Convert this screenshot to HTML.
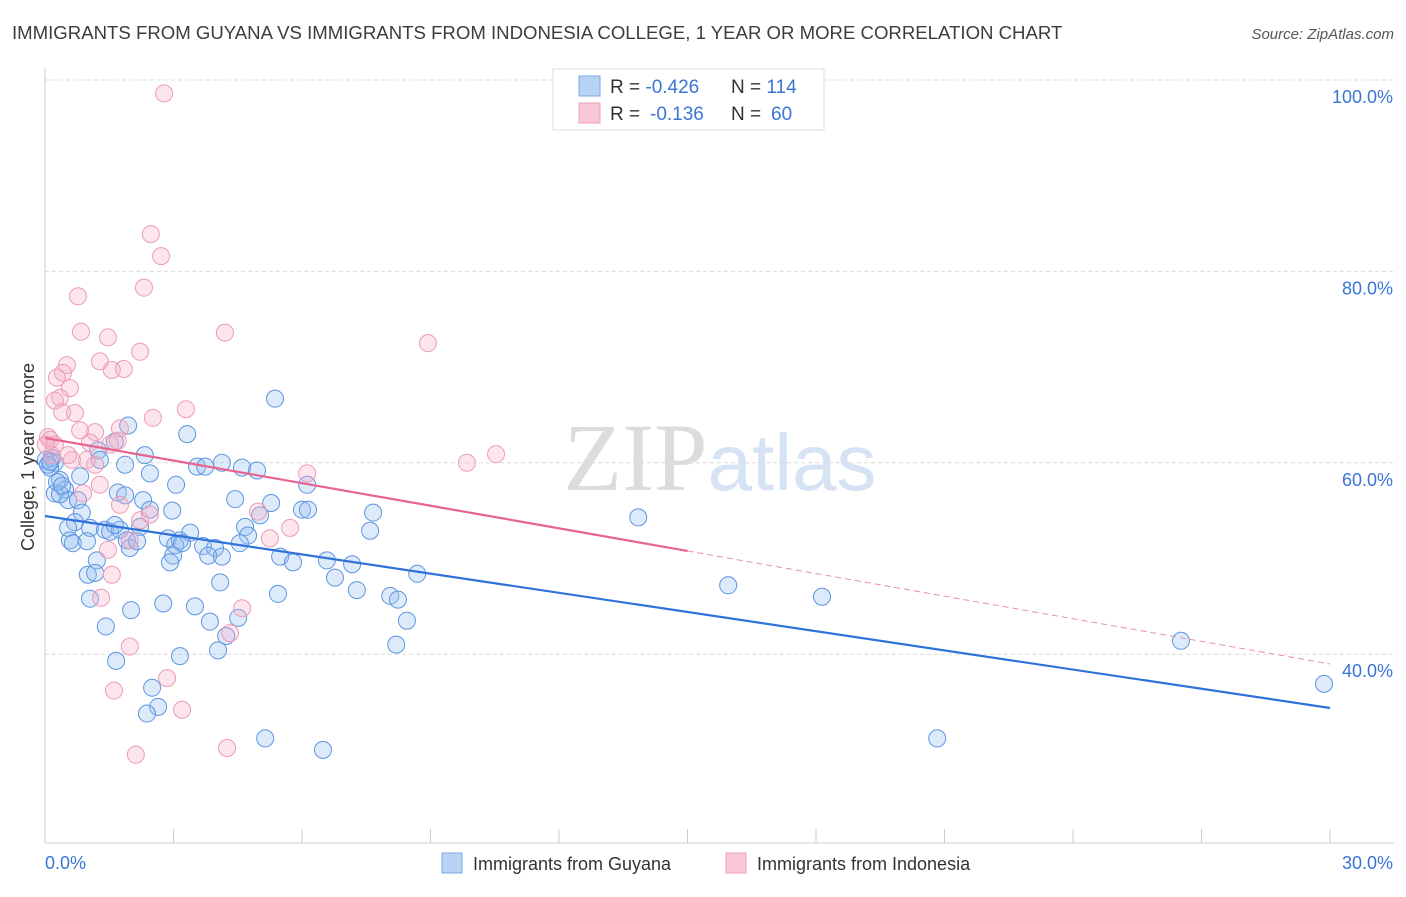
<!DOCTYPE html>
<html><head><meta charset="utf-8"><style>
body{margin:0;background:#fff;font-family:"Liberation Sans",sans-serif}
svg text{font-family:"Liberation Sans",sans-serif}
</style></head><body>
<svg id="chart" width="1406" height="892" xmlns="http://www.w3.org/2000/svg">
<text x="12" y="39" font-size="18.6" fill="#3c3c3c">IMMIGRANTS FROM GUYANA VS IMMIGRANTS FROM INDONESIA COLLEGE, 1 YEAR OR MORE CORRELATION CHART</text>
<text x="1394" y="39" font-size="15" fill="#555" font-style="italic" text-anchor="end">Source: ZipAtlas.com</text>
<text x="720" y="490" font-size="96" text-anchor="middle" fill="#e4e4e4"><tspan font-family="Liberation Serif" fill="#dcdcdc">ZIP</tspan><tspan fill="#d5e3f5" font-size="80">atlas</tspan></text>
<text transform="translate(34,457) rotate(-90)" font-size="18" fill="#333" text-anchor="middle">College, 1 year or more</text>
<g id="grid"></g><g id="pts"></g><g id="lines"></g>
<g>
<rect x="553" y="69" width="271" height="61" fill="#fff" stroke="#ddd"/>
<rect x="579" y="76" width="21" height="20" fill="#b9d3f5" stroke="#7aa7e8"/>
<rect x="579" y="103" width="21" height="20" fill="#f9c6d6" stroke="#eea1ba"/>
<text x="610" y="93" font-size="19" fill="#333">R = <tspan fill="#3a75d6">-0.426</tspan><tspan x="731">N = </tspan><tspan fill="#3a75d6">114</tspan></text>
<text x="610" y="120" font-size="19" fill="#333">R = <tspan fill="#3a75d6" x="650">-0.136</tspan><tspan x="731">N = </tspan><tspan fill="#3a75d6" x="771">60</tspan></text>
</g>
<g>
<rect x="442" y="853" width="20" height="20" fill="#b9d3f5" stroke="#7aa7e8"/>
<text x="473" y="870" font-size="18" fill="#333">Immigrants from Guyana</text>
<rect x="726" y="853" width="20" height="20" fill="#f9c6d6" stroke="#eea1ba"/>
<text x="757" y="870" font-size="18" fill="#333">Immigrants from Indonesia</text>
</g>
</svg>
<script>
const yTicks=[100,80,60,40];
const yTickLabels=["100.0%","80.0%","60.0%","40.0%"];
const xTicks=[0,3,6,9,12,15,18,21,24,27,30];
const xTickLabels=["0.0%","30.0%"];
const guyanaX=[5.37,3.32,1.94,1.63,1.24,0.16,0.23,0.12,2.33,1.87,2.45,3.55,3.74,4.13,4.60,4.95,6.12,3.06,0.35,0.47,0.23,0.54,0.77,1.70,1.87,2.29,4.44,5.28,6.00,6.14,7.66,2.45,2.97,0.82,0.86,0.70,1.05,0.54,0.58,0.65,0.98,1.40,1.52,1.75,2.22,1.91,1.98,2.15,2.87,3.15,3.39,4.67,4.74,7.59,5.02,0.35,13.85,3.69,3.97,3.04,3.20,2.99,2.92,3.81,4.13,5.49,5.79,6.58,7.17,1.21,1.00,1.17,6.77,8.69,4.09,7.28,8.06,8.24,5.44,1.05,2.01,2.76,3.50,3.85,4.51,8.45,1.42,4.23,8.20,4.04,3.15,1.66,2.50,2.64,2.38,5.14,6.49,15.95,18.14,26.52,29.86,20.83,0.02,0.07,0.12,0.28,0.40,1.28,1.63,4.55];
const guyanaY=[66.7,63.0,63.9,62.2,61.3,60.5,60.0,59.5,60.8,59.8,58.9,59.6,59.6,60.0,59.5,59.2,57.7,57.7,58.2,57.2,56.8,56.1,56.1,56.9,56.6,56.1,56.2,55.8,55.1,55.1,54.8,55.1,55.0,58.6,54.8,53.8,53.2,53.2,51.9,51.6,51.8,53.0,52.8,53.0,53.3,51.9,51.1,51.8,52.1,51.9,52.7,53.3,52.4,52.9,54.5,56.7,54.3,51.3,51.1,51.4,51.6,50.3,49.6,50.3,50.2,50.2,49.6,49.8,49.4,49.8,48.3,48.5,48.0,48.4,47.5,46.7,46.1,45.7,46.3,45.8,44.6,45.3,45.0,43.4,43.8,43.5,42.9,41.9,41.0,40.4,39.8,39.3,36.5,34.5,33.8,31.2,30.0,47.2,46.0,41.4,36.9,31.2,60.3,59.8,60.1,58.0,57.6,60.3,53.5,51.6];
const indoX=[2.78,2.47,2.71,0.77,2.31,4.20,0.84,1.47,2.22,8.94,0.51,0.42,1.28,1.84,1.56,0.28,0.58,0.35,0.23,0.70,0.40,2.52,3.29,0.07,0.12,0.23,0.82,1.17,1.75,0.16,1.05,1.52,1.70,0.98,1.17,0.63,0.54,0.89,1.28,1.75,2.22,2.45,1.98,9.85,10.53,6.12,4.97,5.72,5.25,1.47,1.56,1.31,4.60,4.32,1.98,1.61,2.85,3.20,4.25,2.12,0.02];
const indoY=[98.6,83.9,81.6,77.4,78.3,73.6,73.7,73.1,71.6,72.5,70.2,69.4,70.6,69.8,69.7,68.9,67.8,66.8,66.5,65.2,65.3,64.7,65.6,62.7,62.4,61.9,63.4,63.2,63.6,60.8,62.1,61.9,62.3,60.3,59.8,60.3,60.8,56.8,57.7,55.6,54.0,54.6,51.9,60.0,60.9,58.9,54.9,53.2,52.1,50.9,48.3,45.9,44.8,42.2,40.8,36.2,37.5,34.2,30.2,29.5,61.9];
const guyanaTrend=[54.44,34.38];
const indoTrend=[62.6,38.98];
const indoSolidEnd=15;

const NS="http://www.w3.org/2000/svg";
const X=v=>45+v*(1285/30);
const Y=v=>80+(100-v)*9.57;
function mk(tag,attrs,parent){const e=document.createElementNS(NS,tag);for(const k in attrs)e.setAttribute(k,attrs[k]);parent.appendChild(e);return e;}
const grid=document.getElementById('grid'),pts=document.getElementById('pts'),lines=document.getElementById('lines');
yTicks.forEach((t,i)=>{
  const l=mk('line',{x1:45,x2:1394,y1:Y(t),y2:Y(t),stroke:'#dcdcdc','stroke-dasharray':'4,3'},grid);
  
  
  const tx=mk('text',{x:1393,y:Y(t)+23,'font-size':18,fill:'#3a75d6','text-anchor':'end'},grid);
  tx.textContent=yTickLabels[i];
  
  
});
const ax=mk('line',{x1:45,x2:1394,y1:843,y2:843,stroke:'#ccc'},grid);


const ay=mk('line',{x1:45,x2:45,y1:68,y2:843,stroke:'#ccc'},grid);


xTicks.forEach(t=>{
  const l=mk('line',{x1:X(t),x2:X(t),y1:829,y2:843,stroke:'#ccc'},grid);
  
  
});
const xl0=mk('text',{x:45,y:869,'font-size':18,fill:'#3a75d6'},grid);xl0.textContent=xTickLabels[0];


const xl1=mk('text',{x:1393,y:869,'font-size':18,fill:'#3a75d6','text-anchor':'end'},grid);xl1.textContent=xTickLabels[1];


guyanaX.forEach((v,i)=>{
  const c=mk('circle',{cx:X(v),cy:Y(guyanaY[i]),r:8.5,fill:'rgba(150,190,240,0.32)',stroke:'#5d95e2','stroke-width':1},pts);
  
  
});
indoX.forEach((v,i)=>{
  const c=mk('circle',{cx:X(v),cy:Y(indoY[i]),r:8.5,fill:'rgba(245,175,198,0.32)',stroke:'#ec9cb7','stroke-width':1},pts);
  
  
});
const bl=mk('line',{x1:X(0),y1:Y(guyanaTrend[0]),x2:X(30),y2:Y(guyanaTrend[1]),stroke:'#2f72d9','stroke-width':2.2},lines);


const pv=x=>indoTrend[0]+(indoTrend[1]-indoTrend[0])*x/30;
const pl=mk('line',{x1:X(0),y1:Y(pv(0)),x2:X(indoSolidEnd),y2:Y(pv(indoSolidEnd)),stroke:'#e8638f','stroke-width':2.2},lines);


const pd=mk('line',{x1:X(indoSolidEnd),y1:Y(pv(indoSolidEnd)),x2:X(30),y2:Y(pv(30)),stroke:'#eb8fad','stroke-width':1,'stroke-dasharray':'6,4'},lines);


</script>
</body></html>
